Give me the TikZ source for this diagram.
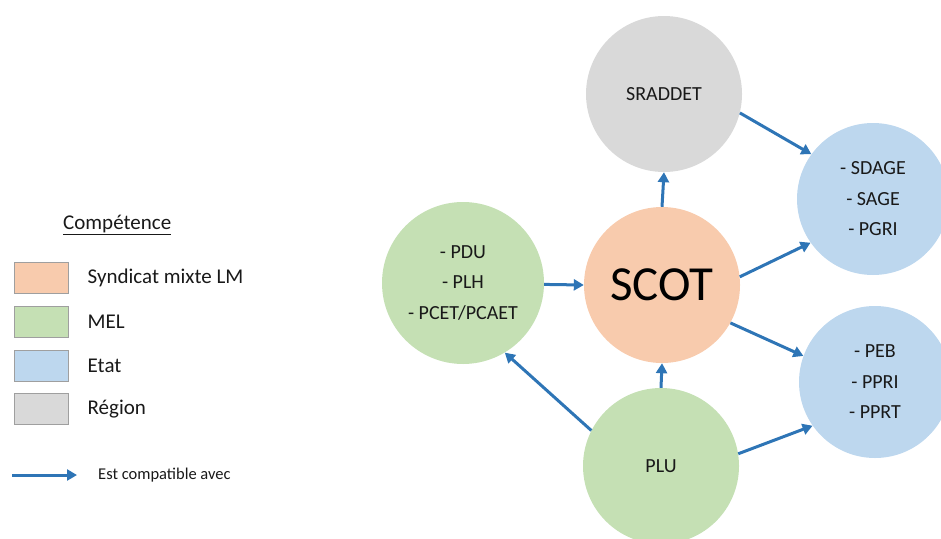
\documentclass[tikz,border=0pt]{standalone}
\usepackage{fontspec}
\setmainfont{Carlito}
\usetikzlibrary{arrows.meta}
\definecolor{orangeSM}{HTML}{F8CBAD}
\definecolor{vertMEL}{HTML}{C5E0B4}
\definecolor{bleuEtat}{HTML}{BDD7EE}
\definecolor{grisReg}{HTML}{D9D9D9}
\definecolor{bleuFl}{HTML}{2E75B6}
\tikzset{
	plan/.style={circle, minimum size=156pt, inner sep=0pt, align=center, text=black!90, font=\fontsize{20}{30.5}\selectfont},
	fleche/.style={draw=bleuFl, line width=3pt, -{Triangle[length=10pt,width=11pt]}},
	case/.style={draw=gray!75, line width=1pt, minimum width=54pt, minimum height=31pt, inner sep=0pt},
	legende/.style={anchor=west, inner sep=0pt, text=black!90, font=\fontsize{21}{24}\selectfont}
}
\begin{document}
\begin{tikzpicture}[x=1pt, y=-1pt]
	\useasboundingbox (0,0) rectangle (941,538);
	\node[plan, fill=grisReg] (sraddet) at (664,94) {SRADDET};
	\node[plan, fill=orangeSM, text=black, font=\fontsize{49}{52}\selectfont] (scot) at (662,285) {SCOT};
	\node[plan, fill=vertMEL, minimum size=162pt] (pdu) at (463,283) {- PDU\\- PLH\\- PCET/PCAET};
	\node[plan, fill=vertMEL] (plu) at (661,466) {PLU};
	\node[plan, fill=bleuEtat, minimum size=152pt] (sdage) at (873,199) {- SDAGE\\- SAGE\\- PGRI};
	\node[plan, fill=bleuEtat, minimum size=152pt] (peb) at (875,382) {- PEB\\- PPRI\\- PPRT};
	\draw[fleche] (scot.north) -- (sraddet.south);
	\draw[fleche] (sraddet.-14) -- (sdage.144);
	\draw[fleche] (scot.6) -- (sdage.215);
	\draw[fleche] (scot.-29) -- (peb.160);
	\draw[fleche] (plu.9) -- (peb.215);
	\draw[fleche] (pdu.-1.5) -- (scot.west);
	\draw[fleche] (plu.153) -- (pdu.-59);
	\draw[fleche] (plu.north) -- (scot.south);
	%légende
	\node[legende] (titre) at (63,225) {\underline{Compétence}};
	\node[case, fill=orangeSM] (c1) at (41,278) {};
	\node[case, fill=vertMEL] (c2) at (41,322) {};
	\node[case, fill=bleuEtat] (c3) at (41,366) {};
	\node[case, fill=grisReg] (c4) at (41,409) {};
	\node[legende] (t1) at ([xshift=19pt]c1.east) {Syndicat mixte LM};
	\node[legende] (t2) at ([xshift=19pt]c2.east) {MEL};
	\node[legende] (t3) at ([xshift=19pt]c3.east) {Etat};
	\node[legende] (t4) at ([xshift=19pt]c4.east) {Région};
	\coordinate (l1) at (12,475);
	\coordinate (l2) at (77,475);
	\draw[fleche] (l1) -- (l2);
	\node[legende, font=\fontsize{16.5}{18}\selectfont] (t5) at (98,475) {Est compatible avec};
\end{tikzpicture}
\end{document}
